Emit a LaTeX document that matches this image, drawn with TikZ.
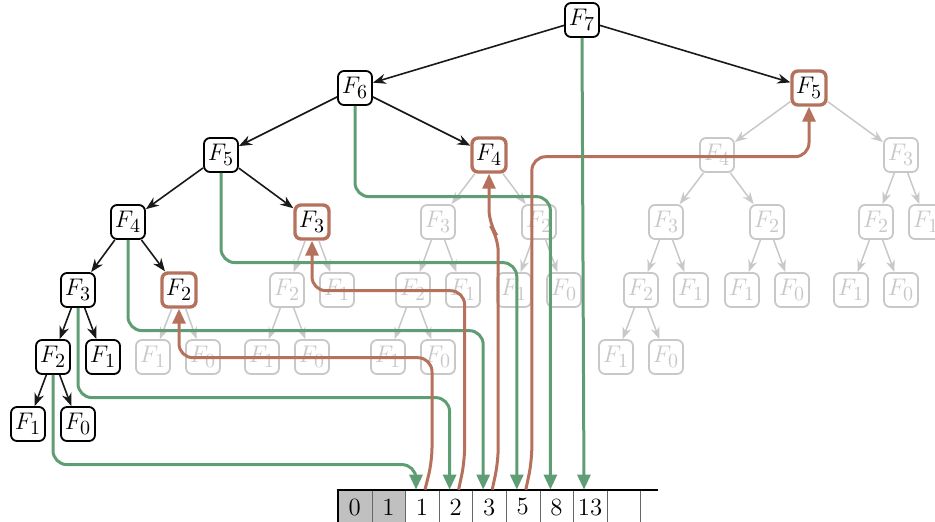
\documentclass[tikz,border=0pt]{standalone}
\usetikzlibrary{arrows.meta,calc}
\DeclareMathSizes{12}{12}{10}{7}
\definecolor{grn}{HTML}{5F9E74}
\definecolor{brn}{HTML}{B5715B}
\definecolor{lgr}{HTML}{C8C8C8}
\definecolor{cellgray}{HTML}{C0C0C0}
\begin{document}
\begin{tikzpicture}[x=0.5pt,y=-0.5pt,
  fnode/.style={rounded corners=3pt, minimum size=17pt, inner sep=0pt, fill=white, line width=0.9pt, font=\fontsize{12}{14}\selectfont},
  blknode/.style={fnode, draw=black},
  hinode/.style={fnode, draw=brn, line width=1.7pt},
  grynode/.style={fnode, draw=lgr, text=lgr},
  blkedge/.style={draw=black!90, line width=0.8pt, -{Stealth[length=6.5pt,width=5pt]}},
  gryedge/.style={draw=lgr, line width=0.75pt, -{Stealth[length=6pt,width=4.5pt]}},
  gpath/.style={draw=grn, line width=1.5pt, rounded corners=7pt, -{Triangle[length=7.5pt,width=6.5pt]}},
  bpath/.style={draw=brn, line width=1.5pt, rounded corners=7pt, -{Triangle[length=7.5pt,width=6.5pt]}},
  cell/.style={minimum width=16.8pt, minimum height=17pt, inner sep=0pt, font=\fontsize{12.4}{14}\selectfont},
]
\useasboundingbox (0,0) rectangle (935,521);

% black nodes
\node[blknode] (F7) at (582,20) {$F_{7}$};
\node[blknode] (F6) at (355,88) {$F_{6}$};
\node[blknode] (F5a) at (221,155) {$F_{5}$};
\node[blknode] (F4a) at (128,222) {$F_{4}$};
\node[blknode] (F3a) at (78,290) {$F_{3}$};
\node[blknode] (F2a) at (53,357) {$F_{2}$};
\node[blknode] (F1a) at (28,424) {$F_{1}$};
\node[blknode] (F0a) at (78,424) {$F_{0}$};
\node[blknode] (F1b) at (103,357) {$F_{1}$};
% highlighted nodes
\node[hinode] (H2) at (179,290) {$F_{2}$};
\node[hinode] (H3) at (312,222) {$F_{3}$};
\node[hinode] (H4) at (489,155) {$F_{4}$};
\node[hinode] (H5) at (809,88) {$F_{5}$};
% gray nodes
\node[grynode] (g1) at (153,357) {$F_{1}$};
\node[grynode] (g2) at (203,357) {$F_{0}$};
\node[grynode] (g3) at (287,290) {$F_{2}$};
\node[grynode] (g4) at (337,290) {$F_{1}$};
\node[grynode] (g5) at (262,357) {$F_{1}$};
\node[grynode] (g6) at (312,357) {$F_{0}$};
\node[grynode] (g7) at (438,222) {$F_{3}$};
\node[grynode] (g8) at (539,222) {$F_{2}$};
\node[grynode] (g9) at (413,290) {$F_{2}$};
\node[grynode] (g10) at (463,290) {$F_{1}$};
\node[grynode] (g11) at (388,357) {$F_{1}$};
\node[grynode] (g12) at (438,357) {$F_{0}$};
\node[grynode] (g13) at (514,290) {$F_{1}$};
\node[grynode] (g14) at (564,290) {$F_{0}$};
\node[grynode] (g15) at (717,155) {$F_{4}$};
\node[grynode] (g16) at (901,155) {$F_{3}$};
\node[grynode] (g17) at (666,222) {$F_{3}$};
\node[grynode] (g18) at (767,222) {$F_{2}$};
\node[grynode] (g19) at (641,290) {$F_{2}$};
\node[grynode] (g20) at (691,290) {$F_{1}$};
\node[grynode] (g21) at (616,357) {$F_{1}$};
\node[grynode] (g22) at (666,357) {$F_{0}$};
\node[grynode] (g23) at (742,290) {$F_{1}$};
\node[grynode] (g24) at (792,290) {$F_{0}$};
\node[grynode] (g25) at (876,222) {$F_{2}$};
\node[grynode] (g26) at (926,222) {$F_{1}$};
\node[grynode] (g27) at (851,290) {$F_{1}$};
\node[grynode] (g28) at (901,290) {$F_{0}$};

% black edges
\foreach \a/\b in {F7/F6,F7/H5,F6/F5a,F6/H4,F5a/F4a,F5a/H3,F4a/F3a,F4a/H2,F3a/F2a,F3a/F1b,F2a/F1a,F2a/F0a}
  \draw[blkedge] (\a) -- (\b);
% gray edges
\foreach \a/\b in {H2/g1,H2/g2,H3/g3,H3/g4,g3/g5,g3/g6,H4/g7,H4/g8,g7/g9,g7/g10,g9/g11,g9/g12,g8/g13,g8/g14,H5/g15,H5/g16,g15/g17,g15/g18,g17/g19,g17/g20,g19/g21,g19/g22,g18/g23,g18/g24,g16/g25,g16/g26,g25/g27,g25/g28}
  \draw[gryedge] (\a) -- (\b);

% array
\node[cell, fill=cellgray] (c0) at (354.8,507) {0};
\node[cell, fill=cellgray] (c1) at (388.4,507) {1};
\node[cell] (c2) at (422.0,507) {1};
\node[cell] (c3) at (455.6,507) {2};
\node[cell] (c4) at (489.2,507) {3};
\node[cell] (c5) at (522.8,507) {5};
\node[cell] (c6) at (556.4,507) {8};
\node[cell] (c7) at (590.0,507) {13};
\node[cell] (c8) at (623.6,507) {};
\node[cell] (c9) at (657.2,507) {};
\foreach \i in {0,...,8}
  \draw[black!60, line width=0.5pt] (c\i.north east) -- (c\i.south east);
\draw[black, line width=1pt] (c0.north west) -- (c0.south west);
\draw[black, line width=1.1pt] ($(c0.north west)+(-1,0)$) -- ($(c9.north)+(1,0)$);

% green paths
\draw[gpath] (F2a.south) |- ($(c2.north)+(-6,-25)$) -- ($(c2.north)+(-6,0)$);
\draw[gpath] (F3a.south) |- ($(c3.north)+(-6,-92)$) -- ($(c3.north)+(-6,0)$);
\draw[gpath] (F4a.south) |- ($(c4.north)+(-6,-159)$) -- ($(c4.north)+(-6,0)$);
\draw[gpath] (F5a.south) |- ($(c5.north)+(-6,-227)$) -- ($(c5.north)+(-6,0)$);
\draw[gpath] (F6.south) |- ($(c6.north)+(-6,-293)$) -- ($(c6.north)+(-6,0)$);

% brown paths
\draw[bpath] ($(c2.north)+(3,0)$) -- ($(c2.north)+(10,-28)$) |- ($(H2.south)+(0,49)$) -- (H2.south);
\draw[bpath] ($(c3.north)+(3,0)$) -- ($(c3.north)+(9,-28)$) |- ($(H3.south)+(0,50)$) -- (H3.south);
\draw[bpath] ($(c4.north)+(3,0)$) -- ($(c4.north)+(9,-28)$) -- ($(c4.north)+(9,-252)$) -- ($(H4.south)+(0,50)$) -- (H4.south);
\draw[bpath] ($(c5.north)+(3,0)$) -- ($(c5.north)+(9,-28)$) |- ($(H5.south)+(0,50)$) -- (H5.south);

\draw[gpath] (F7.south) -- ($(c7.north)+(-6,0)$);
\end{tikzpicture}
\end{document}
